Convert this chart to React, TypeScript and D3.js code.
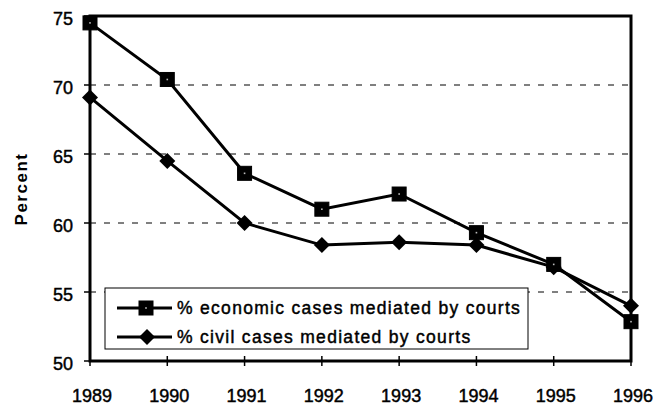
import React from "react";
import * as d3 from "d3";

const years = [1989, 1990, 1991, 1992, 1993, 1994, 1995, 1996];
const economic = [74.5, 70.4, 63.6, 61.0, 62.1, 59.3, 57.0, 52.85];
const civil = [69.1, 64.5, 60.0, 58.4, 58.6, 58.4, 56.8, 54.0];
const yTicks = [50, 55, 60, 65, 70, 75];
const gridTicks = [55, 60, 65, 70];
const seriesNames = ["% economic cases mediated by courts", "% civil cases mediated by courts"];

const W = 653, H = 406;
const L = 90, R = 631, T = 16, B = 361;
const font = "Liberation Sans, Arial, sans-serif";
const heavy = { stroke: "#000", strokeWidth: 0.45 };

export default function App() {
  const x = d3.scaleLinear().domain([1989, 1996]).range([L, R]);
  const y = d3.scaleLinear().domain([50, 75]).range([B, T]);
  const line = d3.line<number>().x((_, i) => x(years[i])).y((v) => y(v));

  const square = (cx: number, cy: number, k: string) => (
    <g key={k}>
      <rect x={cx - 7} y={cy - 7} width={14} height={14} fill="#000" stroke="#000" strokeWidth={1} />
      <rect x={cx - 0.8} y={cy - 0.8} width={1.6} height={1.6} fill="#bbb" />
    </g>
  );
  const diamond = (cx: number, cy: number, k: string) => (
    <path key={k} d={`M${cx},${cy - 8}L${cx + 8},${cy}L${cx},${cy + 8}L${cx - 8},${cy}Z`} fill="#000" />
  );

  return (
    <svg width={W} height={H} style={{ position: "absolute", left: 0, top: 0, background: "#fff" }}>
      <rect width={W} height={H} fill="#fff" />
      {gridTicks.map((t) => (
        <line key={t} x1={L} x2={R} y1={y(t)} y2={y(t)} stroke="#000" strokeWidth={1} strokeDasharray="6,8" />
      ))}
      <rect x={L} y={T} width={R - L} height={B - T} fill="none" stroke="#000" strokeWidth={3} />
      {yTicks.map((t) => (
        <g key={t}>
          <line x1={L - 6} x2={L} y1={y(t)} y2={y(t)} stroke="#000" strokeWidth={1.5} />
          <text x={73} y={y(t) + 9} textAnchor="end" fontFamily={font} fontSize={18} fill="#000" {...heavy}>{t}</text>
        </g>
      ))}
      {years.map((yr) => (
        <g key={yr}>
          <line x1={x(yr)} x2={x(yr)} y1={B - 5} y2={B + 5} stroke="#000" strokeWidth={1.5} />
          <text x={x(yr) + 2} y={402} textAnchor="middle" fontFamily={font} fontSize={18} fill="#000" {...heavy}>{yr}</text>
        </g>
      ))}
      <text transform={`translate(27,189) rotate(-90)`} textAnchor="middle" fontFamily={font} fontWeight="bold" fontSize={17} letterSpacing={1.5} fill="#000">Percent</text>
      <path d={line(economic) || ""} fill="none" stroke="#000" strokeWidth={3} />
      <path d={line(civil) || ""} fill="none" stroke="#000" strokeWidth={3} />
      {civil.map((v, i) => diamond(x(years[i]), y(v), "c" + i))}
      {economic.map((v, i) => square(x(years[i]), y(v), "e" + i))}
      <rect x={105} y={288} width={423} height={61} fill="#fff" stroke="#000" strokeWidth={1} />
      <line x1={117} x2={172} y1={308} y2={308} stroke="#000" strokeWidth={3} />
      {square(146, 308, "ls")}
      <text x={177} y={314} fontFamily={font} fontSize={17.5} letterSpacing={1.3} fill="#000" {...heavy}>{seriesNames[0]}</text>
      <line x1={117} x2={172} y1={337} y2={337} stroke="#000" strokeWidth={3} />
      {diamond(147, 337, "ld")}
      <text x={177} y={343} fontFamily={font} fontSize={17.5} letterSpacing={1.3} fill="#000" {...heavy}>{seriesNames[1]}</text>
    </svg>
  );
}
